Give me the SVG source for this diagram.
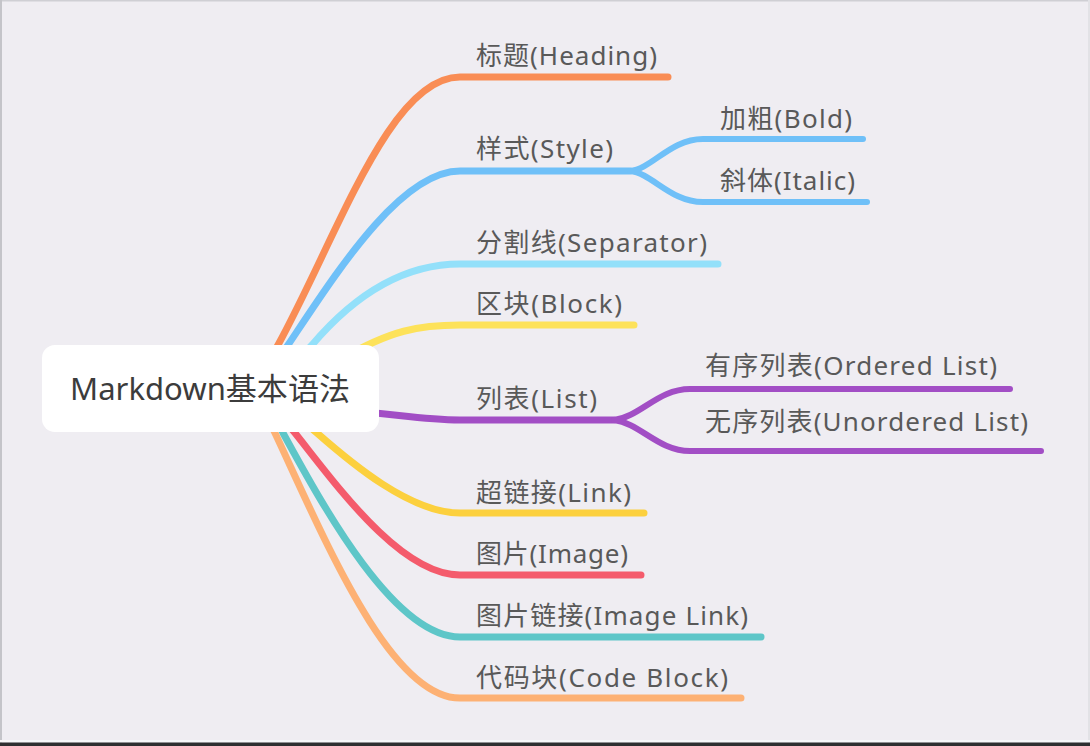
<svg xmlns="http://www.w3.org/2000/svg" width="1090" height="746" viewBox="0 0 1090 746">
<style>
.bg{fill:#efedf2}
.ln{fill:none;stroke-width:7;stroke-linecap:round;stroke-linejoin:round}
.sub{fill:none;stroke-width:6;stroke-linecap:round;stroke-linejoin:round}
.lbl{font-family:"Noto Sans","Noto Sans CJK SC",sans-serif;font-size:26px;fill:#595959}
.root{font-family:"Noto Sans","Noto Sans CJK SC",sans-serif;font-size:31px;fill:#3c3c3c}
</style>
<rect class="bg" x="0" y="0" width="1090" height="746"/>
<rect x="0" y="0" width="1090" height="1.5" fill="#cfcfd4"/>
<rect x="0" y="0" width="2" height="746" fill="#c4c4c9"/>
<rect x="1088" y="0" width="2" height="746" fill="#e2e2e6"/>
<rect x="0" y="740" width="1090" height="2.5" fill="#f7f7f9"/>
<rect x="0" y="742.5" width="1090" height="3.5" fill="#2f2f31"/>

<g id="connectors">
  <path class="ln" stroke="#f98d55" d="M254 389 L278 345 C338 235 390 77 460 77 L668 77"/>
  <path class="ln" stroke="#6fc0f8" d="M255 394 L288 345 C335 275 400 171 460 171 L630 171"/>
  <path class="sub" stroke="#6fc0f8" d="M630 171 C652 169 670 139 703 139 L863 139"/>
  <path class="sub" stroke="#6fc0f8" d="M630 171 C652 173 670 202 703 202 L867 202"/>
  <path class="ln" stroke="#93e0fa" d="M270 389 L312 345 C340 312 390 264 460 264 L718 264"/>
  <path class="ln" stroke="#fde25a" d="M290 400 L340 360 C390 330 420 325 460 325 L634 325"/>
  <path class="ln" stroke="#a24ec5" d="M320 408 C400 414 420 420 460 420 L614 420"/>
  <path class="sub" stroke="#a24ec5" d="M614 420 C640 417 658 389 690 389 L1010 389"/>
  <path class="sub" stroke="#a24ec5" d="M614 420 C640 423 658 451 690 451 L1041 451"/>
  <path class="ln" stroke="#fcd03e" d="M270 393 L317 433 C350 462 410 513 460 513 L644 513"/>
  <path class="ln" stroke="#f45b6c" d="M255 385 L295 433 C335 483 400 575 460 575 L641 575"/>
  <path class="ln" stroke="#5ec6c8" d="M258 384 L283 433 C325 510 395 637 460 637 L761 637"/>
  <path class="ln" stroke="#fdb174" d="M255 392 L275 433 C325 540 390 698 460 698 L741 698"/>
</g>

<g id="root">
  <rect x="42" y="345" width="337" height="87" rx="13" ry="13" fill="#ffffff"/>
  <text class="root" x="70" y="400" textLength="280" lengthAdjust="spacingAndGlyphs">Markdown基本语法</text>
</g>

<g id="heading"><text class="lbl" x="476" y="65" textLength="181" lengthAdjust="spacing">标题(Heading)</text></g>
<g id="style"><text class="lbl" x="476" y="158" textLength="137" lengthAdjust="spacing">样式(Style)</text></g>
<g id="bold"><text class="lbl" x="720" y="128" textLength="132" lengthAdjust="spacing">加粗(Bold)</text></g>
<g id="italic"><text class="lbl" x="720" y="190" textLength="135" lengthAdjust="spacing">斜体(Italic)</text></g>
<g id="separator"><text class="lbl" x="476" y="252" textLength="231" lengthAdjust="spacing">分割线(Separator)</text></g>
<g id="block"><text class="lbl" x="476" y="313" textLength="146" lengthAdjust="spacing">区块(Block)</text></g>
<g id="list"><text class="lbl" x="476" y="408" textLength="121" lengthAdjust="spacing">列表(List)</text></g>
<g id="ordered"><text class="lbl" x="705" y="375" textLength="292" lengthAdjust="spacing">有序列表(Ordered List)</text></g>
<g id="unordered"><text class="lbl" x="705" y="431" textLength="323" lengthAdjust="spacing">无序列表(Unordered List)</text></g>
<g id="link"><text class="lbl" x="476" y="502" textLength="155" lengthAdjust="spacing">超链接(Link)</text></g>
<g id="image"><text class="lbl" x="476" y="563" textLength="152" lengthAdjust="spacing">图片(Image)</text></g>
<g id="imagelink"><text class="lbl" x="476" y="625" textLength="272" lengthAdjust="spacing">图片链接(Image Link)</text></g>
<g id="codeblock"><text class="lbl" x="476" y="687" textLength="252" lengthAdjust="spacing">代码块(Code Block)</text></g>
</svg>
